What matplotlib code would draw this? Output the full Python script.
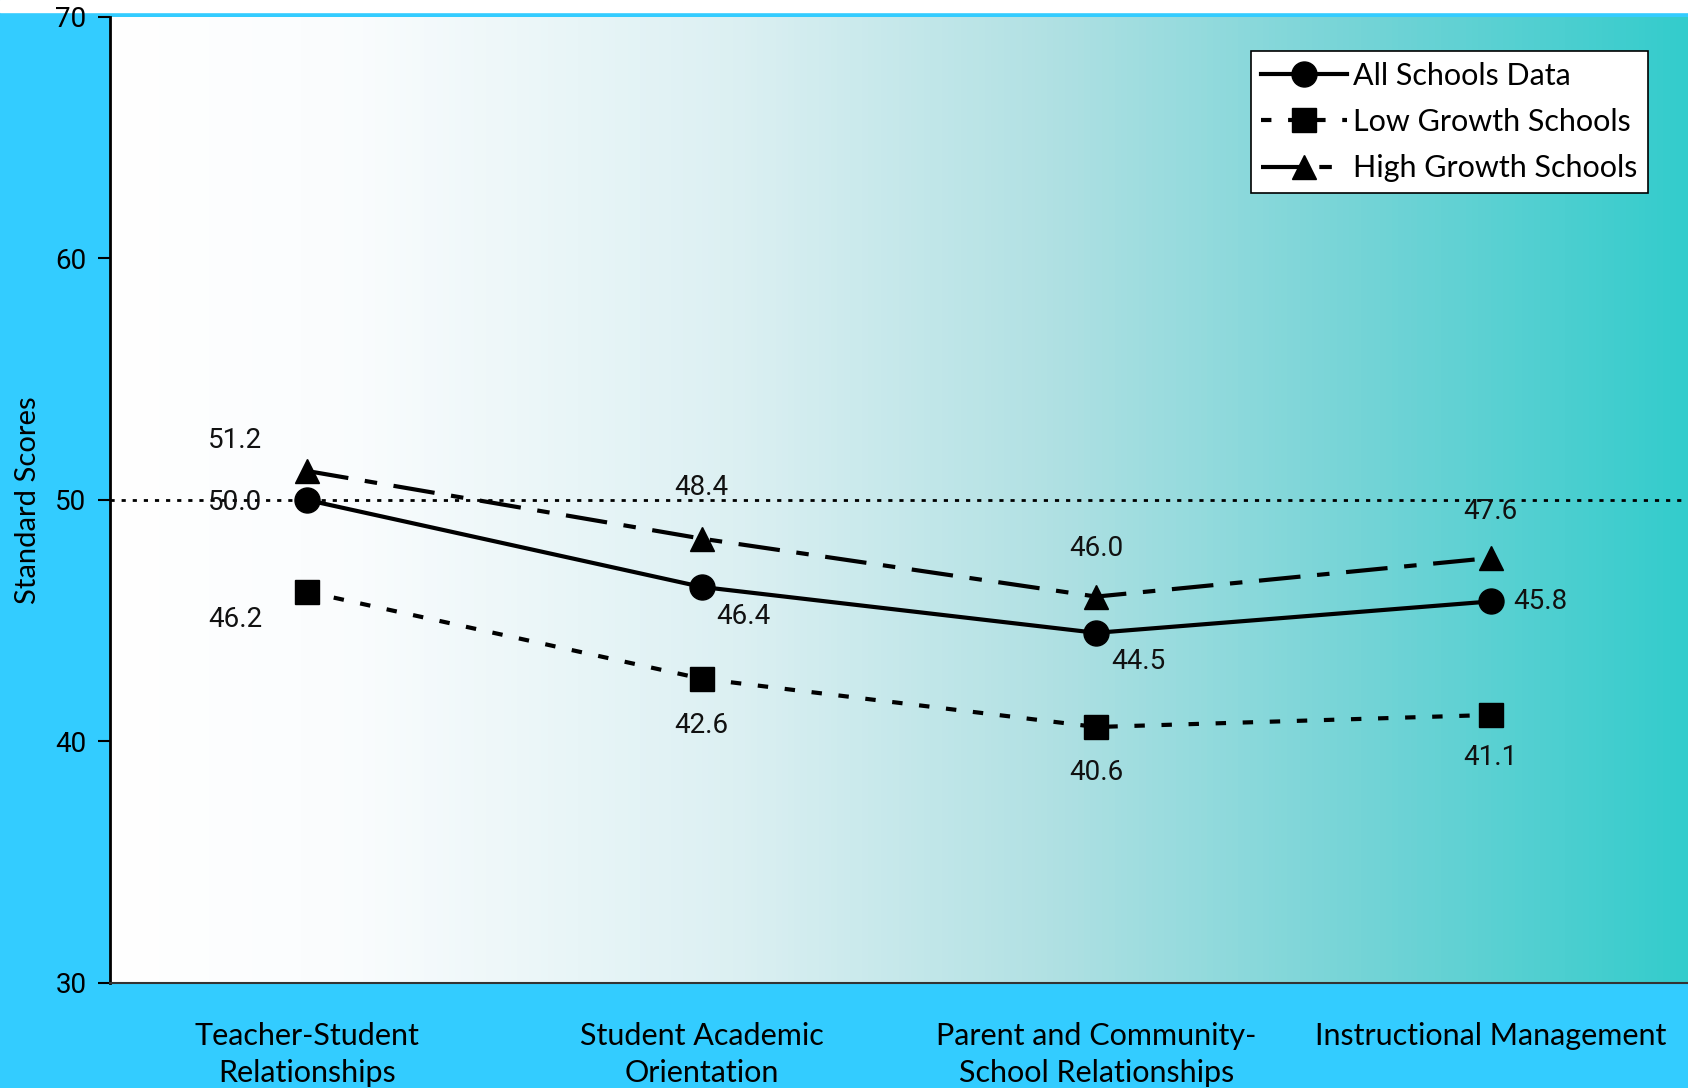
import numpy as np
import matplotlib.pyplot as plt
from matplotlib.colors import LinearSegmentedColormap

categories = ["Teacher-Student\nRelationships", "Student Academic\nOrientation",
              "Parent and Community-\nSchool Relationships", "Instructional Management"]
all_schools = [50.0, 46.4, 44.5, 45.8]
low_growth = [46.2, 42.6, 40.6, 41.1]
high_growth = [51.2, 48.4, 46.0, 47.6]

# label offsets in pixels (dx, dy)
all_off = [(-72, -2), (42, -30), (42, -29), (50, 0)]
low_off = [(-72, -28), (0, -47), (0, -45), (0, -43)]
high_off = [(-72, 31), (0, 51), (0, 48), (0, 46)]

fig = plt.figure(figsize=(16.88, 10.88), dpi=100, facecolor="#33CCFF")
ax = fig.add_axes([110 / 1688, 1 - 983 / 1088, 1 - 110 / 1688, 966 / 1088])

# horizontal white -> teal gradient in plot area
grad = LinearSegmentedColormap.from_list("g", [
    (0.0, (1, 1, 1)), (0.15, (0.98, 0.99, 0.995)), (0.4, (0.86, 0.94, 0.95)),
    (0.6, (0.69, 0.88, 0.89)), (0.8, (0.45, 0.83, 0.84)), (1.0, (0.2, 0.8, 0.8))])
ax.imshow(np.linspace(0, 1, 512).reshape(1, -1), cmap=grad, aspect="auto",
          extent=[0, 1, 0, 1], transform=ax.transAxes, zorder=0)

x = np.arange(len(categories))
ax.axhline(50, color="black", lw=2, ls=(0, (1.5, 2.5)), zorder=1)

ax.plot(x, all_schools, color="black", lw=3, marker="o", ms=18, label="All Schools Data", zorder=3)
ax.plot(x, low_growth, color="black", lw=3, ls=(0, (2.5, 4)), marker="s", ms=17,
        label="Low Growth Schools", zorder=3)
ax.plot(x, high_growth, color="black", lw=3, ls=(0, (10, 4, 3, 4)), marker="^", ms=17,
        label="High Growth Schools", zorder=3)

for vals, offs in [(all_schools, all_off), (low_growth, low_off), (high_growth, high_off)]:
    for xi, v, (dx, dy) in zip(x, vals, offs):
        ax.annotate(f"{v:.1f}", (xi, v), xytext=(dx, dy), textcoords="offset pixels",
                    ha="center", va="center", fontsize=20, family="Roboto", color="#111111", zorder=4)

ax.set_xlim(-0.5, 3.5)
ax.set_ylim(30, 70)
ax.set_yticks([30, 40, 50, 60, 70])
ax.set_xticks(x)
ax.set_xticklabels(categories, fontsize=22, family="Lato", linespacing=1.4)
ax.tick_params(axis="x", length=0, pad=28)
ax.tick_params(axis="y", length=9, width=1.5, labelsize=20, pad=8)
for lab in ax.get_yticklabels():
    lab.set_family("Roboto")
ax.set_ylabel("Standard Scores", fontsize=21, family="Lato", labelpad=10)

for s in ["top", "right"]:
    ax.spines[s].set_visible(False)
ax.spines["left"].set_linewidth(2)
ax.spines["bottom"].set_linewidth(1.5)
ax.spines["bottom"].set_color("#333333")

leg = ax.legend(loc="upper right", bbox_to_anchor=((1648 - 110) / 1578, 1 - 34 / 966),
                prop={"family": "Lato", "size": 22}, frameon=True, fancybox=False,
                edgecolor="black", framealpha=1, handlelength=2.8, borderpad=0.35, labelspacing=0.6,
                handletextpad=0.2, borderaxespad=0)
leg.get_frame().set_linewidth(1.2)

# thin white strip at the very top
fig.patches.append(plt.Rectangle((0, 1 - 12 / 1088), 1, 12 / 1088, transform=fig.transFigure,
                                 color="white", zorder=-1))

fig.savefig("out.png", dpi=100, facecolor=fig.get_facecolor())
